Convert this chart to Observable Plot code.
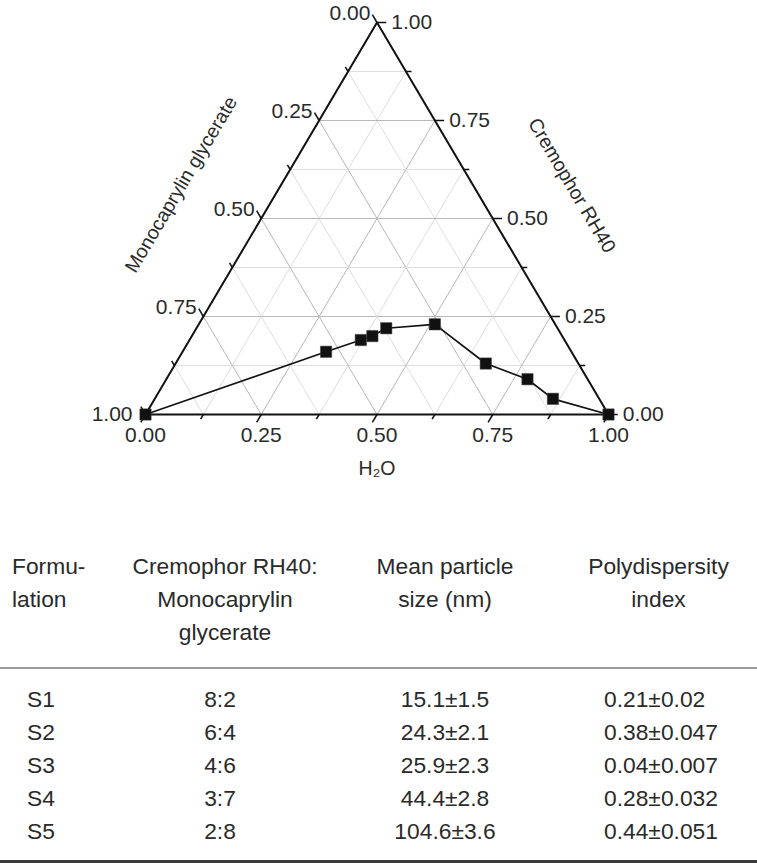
<!DOCTYPE html>
<html>
<head>
<meta charset="utf-8">
<script src="https://cdn.jsdelivr.net/npm/d3@7"></script>
<script src="https://cdn.jsdelivr.net/npm/@observablehq/plot@0.6"></script>
<style>
  body { margin: 0; background: #fff; font-family: "Liberation Sans", Arial, sans-serif; color: #222; }
  #chart svg { display: block; }
  table { border-collapse: collapse; width: 757px; margin-top: 50px; font-size: 22.8px; color: #2a2a2a; table-layout: fixed; }
  th, td { padding: 0; line-height: 33px; font-weight: normal; white-space: nowrap; }
  thead th { vertical-align: top; padding-bottom: 18px; border-bottom: 2px solid #999; text-align: center; }
  thead th.c1 { text-align: left; padding-left: 12px; }
  tbody td { text-align: center; }
  tbody td.c1 { text-align: left; padding-left: 27px; }
  tbody td.c2 { padding-right: 10px; }
  tbody td.c4 { text-align: left; padding-left: 44px; }
  tbody tr:first-child td { padding-top: 14px; }
  tbody tr:last-child td { padding-bottom: 12px; border-bottom: 3px solid #3a3a3a; }
</style>
</head>
<body>
<div id="chart"></div>
<table id="tbl"></table>
<script>
// ---- ternary data (fractions) ----
const water        = [0, 0.31, 0.37, 0.39, 0.41, 0.51, 0.67, 0.78, 0.86, 1];
const cremophor    = [0, 0.16, 0.19, 0.20, 0.22, 0.23, 0.13, 0.09, 0.04, 0];
const monocaprylin = [1, 0.53, 0.44, 0.41, 0.37, 0.26, 0.20, 0.13, 0.10, 0];

// ---- axes ----
const majorTicks  = [0, 0.25, 0.5, 0.75, 1];
const tickLabels  = ["0.00", "0.25", "0.50", "0.75", "1.00"];
const minorTicks  = [0.125, 0.375, 0.625, 0.875];
const gridLevels  = [0.125, 0.25, 0.375, 0.5, 0.625, 0.75, 0.875];
const titleBottom = "H\u2082O";
const titleLeft   = "Monocaprylin glycerate";
const titleRight  = "Cremophor RH40";

// ---- table ----
const headers      = [["Formu-", "lation"], ["Cremophor RH40:", "Monocaprylin", "glycerate"], ["Mean particle", "size (nm)"], ["Polydispersity", "index"]];
const formulations = ["S1", "S2", "S3", "S4", "S5"];
const ratios       = ["8:2", "6:4", "4:6", "3:7", "2:8"];
const sizes        = ["15.1\u00b11.5", "24.3\u00b12.1", "25.9\u00b12.3", "44.4\u00b12.8", "104.6\u00b13.6"];
const pdis         = ["0.21\u00b10.02", "0.38\u00b10.047", "0.04\u00b10.007", "0.28\u00b10.032", "0.44\u00b10.051"];

// projection: (water, cremophor) -> plot coords
const PX = (w, c) => w + c / 2;
const PY = (w, c) => c;

const pts = water.map((w, i) => {
  const s = w + cremophor[i] + monocaprylin[i];
  const ww = w / s, cc = cremophor[i] / s;
  return {x: PX(ww, cc), y: PY(ww, cc)};
});

// grid
const grid = [];
for (const t of gridLevels) {
  const major = Math.abs(t / 0.25 - Math.round(t / 0.25)) < 1e-9;
  const st = major ? "#b8b8b8" : "#dedede";
  grid.push({x1: PX(0, t), y1: PY(0, t), x2: PX(1 - t, t), y2: PY(1 - t, t), st});
  grid.push({x1: PX(t, 0), y1: PY(t, 0), x2: PX(t, 1 - t), y2: PY(t, 1 - t), st});
  grid.push({x1: PX(1 - t, 0), y1: PY(1 - t, 0), x2: PX(0, 1 - t), y2: PY(0, 1 - t), st});
}

// ticks
const ticks = [];
const allTicks = majorTicks.map(t => ({t, L: 0.02})).concat(minorTicks.map(t => ({t, L: 0.012})));
for (const {t, L} of allTicks) {
  ticks.push({x1: PX(0, 1 - t), y1: PY(0, 1 - t), x2: PX(-L, 1 - t + L), y2: PY(-L, 1 - t + L)});
  ticks.push({x1: PX(1 - t, t), y1: PY(1 - t, t), x2: PX(1 - t + L, t), y2: PY(1 - t + L, t)});
  ticks.push({x1: PX(t, 0), y1: PY(t, 0), x2: PX(t, -L), y2: PY(t, -L)});
}

const L = 0.02;
const leftLabels = majorTicks.map((t, i) => ({t, label: tickLabels[i], x: PX(-L, 1 - t + L), y: PY(-L, 1 - t + L)}));
const rightLabels = majorTicks.map((t, i) => ({label: tickLabels[i], x: PX(1 - t + L, t), y: PY(1 - t + L, t)}));
const bottomLabels = majorTicks.map((t, i) => ({label: tickLabels[i], x: PX(t, 0), y: PY(t, 0)}));

const border = [[0, 0], [1, 0], [0, 1], [0, 0]].map(([w, c]) => ({x: PX(w, c), y: PY(w, c)}));

const font = "'Liberation Sans', Arial, sans-serif";
const tf = 21;
const plot = Plot.plot({
  width: 757,
  height: 500,
  margin: 0,
  x: {domain: [0, 1], range: [145, 608], axis: null},
  y: {domain: [0, 1], range: [414, 22], axis: null},
  style: {fontFamily: font, background: "white", overflow: "visible"},
  marks: [
    Plot.link(grid, {x1: "x1", y1: "y1", x2: "x2", y2: "y2", stroke: d => d.st, strokeWidth: 1}),
    Plot.line(border, {x: "x", y: "y", stroke: "#111", strokeWidth: 2}),
    Plot.link(ticks, {x1: "x1", y1: "y1", x2: "x2", y2: "y2", stroke: "#111", strokeWidth: 1.5}),
    Plot.text(leftLabels.filter(d => d.t < 1), {x: "x", y: "y", text: "label", textAnchor: "end", dx: -2, dy: -1, fontSize: tf, fill: "#2a2a2a"}),
    Plot.text(leftLabels.filter(d => d.t === 1), {x: d => PX(0, 0), y: d => PY(0, 0), text: "label", textAnchor: "end", dx: -13, fontSize: tf, fill: "#2a2a2a"}),
    Plot.text(rightLabels, {x: "x", y: "y", text: "label", textAnchor: "start", dx: 5, fontSize: tf, fill: "#2a2a2a"}),
    Plot.text(bottomLabels, {x: "x", y: "y", text: "label", textAnchor: "middle", dy: 21, fontSize: tf, fill: "#2a2a2a"}),
    Plot.text([titleBottom], {x: PX(0.5, 0), y: PY(0.5, 0), text: d => d, dy: 54, fontSize: 19.5, fill: "#2a2a2a"}),
    Plot.text([titleLeft], {x: PX(0, 0.5), y: PY(0, 0.5), text: d => d, dx: -80, dy: -34, rotate: -59.4, fontSize: 19.5, fill: "#2a2a2a"}),
    Plot.text([titleRight], {x: PX(0.5, 0.5), y: PY(0.5, 0.5), text: d => d, dx: 79, dy: -33, rotate: 59.4, fontSize: 19.5, fill: "#2a2a2a"}),
    Plot.line(pts, {x: "x", y: "y", stroke: "#111", strokeWidth: 1.7}),
    Plot.dot(pts, {x: "x", y: "y", symbol: "square", r: 6.4, fill: "#111", stroke: "#444", strokeWidth: 0.5})
  ]
});
document.getElementById("chart").append(plot);

// table
const tbl = d3.select("#tbl");
const cg = tbl.append("colgroup");
[120, 210, 230, 197].forEach(w => cg.append("col").style("width", w + "px"));
const hr = tbl.append("thead").append("tr");
headers.forEach((lines, i) => {
  hr.append("th").attr("class", "c" + (i + 1)).html(lines.join("<br>"));
});
const tb = tbl.append("tbody");
formulations.forEach((f, i) => {
  const tr = tb.append("tr");
  [f, ratios[i], sizes[i], pdis[i]].forEach((v, j) => tr.append("td").attr("class", "c" + (j + 1)).text(v));
});
</script>
</body>
</html>
